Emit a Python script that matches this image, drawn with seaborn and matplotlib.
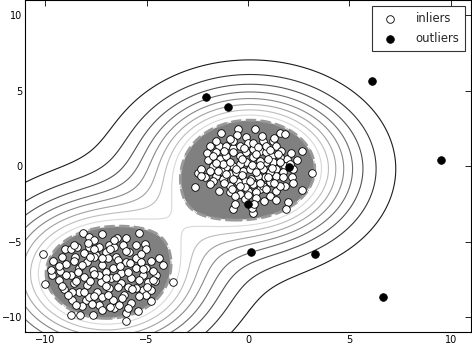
import numpy as np
import pandas as pd
import matplotlib
matplotlib.use("Agg")
import matplotlib.pyplot as plt
import seaborn as sns

# ---- data ----
top_x = [-0.51, 0.33, -1.35, -0.53, -0.12, 1.57, 1.82, 2.64, 3.14, 2.64, 2.19, 1.82, 1.98, 1.86, 0.79,
         0.25, 0.20, -0.74, -0.66, -1.44, -0.91, -2.11, -2.48, -2.61, -2.31, -1.90, -1.45, -2.03, -1.98,
         -1.07, -0.74, 0.00, 0.74, 1.24, 1.40, 1.65, 1.90, 1.57, 1.82, 1.40, 1.40, 1.07, 0.58, 0.41, 0.00,
         -0.41, -0.66, -0.91, -1.24, -1.57, -1.73, -1.40, -1.07, -0.74, -0.41, -0.08, 0.25, 0.58, 0.91,
         1.16, 1.24, 0.91, 0.58, 0.25, -0.08, -0.41, -0.74, -1.07, -1.32, -0.91, -0.58, -0.25, 0.08, 0.41,
         0.74, 1.07, 0.83, 0.50, 0.17, -0.17, -0.50, -0.74, 0.25, 0.74, -0.17, 0.91, -0.41, -1.57, -1.73,
         -1.24, -2.31, -1.73, 1.40, 1.07, 0.41, 1.57, 2.23, 2.06, 1.73, -0.17, 0.25, -0.74,
         -1.20, -0.20, 0.50, 1.10, 1.50, -1.60, -0.90, -0.30, 0.40, 1.00, 1.60, -1.50, -0.60, 0.20,
         0.60, 1.20, 1.70, -1.10, -0.30, 0.40, 1.00, 1.30, -1.20, -0.40, 0.10, 0.60, 0.90, -0.80,
         0.00, -1.90, 2.40, 2.20, -1.90, -0.90, 0.70, 1.30, -1.60, 2.10, 0.30, 1.40]
top_y = [2.46, 2.46, 2.24, 2.06, 1.93, 2.24, 2.13, 1.03, -0.44, -1.54, -0.72, -1.27, -2.37, -2.85, -2.30,
         -3.07, -2.76, -2.85, -2.48, -1.60, -1.67, -0.72, -0.44, -1.38, -0.18, 1.36, 1.36, 0.88, 0.44,
         1.36, 1.25, 1.58, 1.69, 1.69, 1.36, 1.03, 0.48, 0.59, 0.04, -0.18, -0.61, -1.05, -1.49, -1.71, -1.60,
         -1.82, -1.93, -1.27, -0.83, -0.61, 0.04, 0.48, 0.70, 0.92, 0.70, 0.92, 1.14, 1.03, 0.92,
         0.70, 0.26, 0.26, 0.37, 0.59, 0.26, 0.15, 0.04, -0.07, -0.29, -0.50, -0.39, -0.29, -0.18, -0.07,
         -0.18, -0.39, -0.72, -0.61, -0.83, -0.94, -1.05, -0.83, -1.16, -1.27, -1.38, 1.36, 1.36, 0.92, 0.70,
         0.15, -0.61, -0.94, -1.60, -1.93, -2.11, -1.27, -0.18, 0.15, -0.39, -2.15, 1.58, 1.69,
         1.00, 1.20, 1.30, 1.10, 0.80, 0.20, 0.30, 0.50, 0.80, 0.50, 0.30, -0.30, -0.20, 0.10,
         0.10, -0.10, -0.70, -0.50, -0.60, -0.40, -0.70, -1.10, -1.10, -1.30, -1.00, -1.10, -1.50, -1.50,
         -1.90, -0.30, 0.40, -1.10, -1.20, 1.80, 2.00, 1.90, 1.70, 0.90, -2.50, -2.20]

bot_x = [-10.10, -10.00, -9.65, -9.74, -9.60, -9.27, -9.04, -8.75, -8.12, -7.84, -7.18, -6.44, -6.02,
         -5.40, -5.08, -5.03, -4.41, -4.21, -3.71, -4.79, -5.20, -5.45, -6.02, -6.60, -7.67, -8.28, -8.75,
         -8.70, -9.08, -9.32, -8.99, -8.42, -8.09, -7.59, -6.85, -5.86, -5.53, -5.03, -4.54, -4.95, -5.53,
         -6.11, -6.68, -7.34, -8.00, -8.33, -8.58, -8.75, -8.33, -7.92, -7.51, -7.01, -6.52, -6.02, -5.53,
         -5.78, -6.27, -6.85, -7.43, -7.92, -8.09, -7.67, -7.18, -6.68, -6.27, -6.77, -7.26, -7.34, -7.01,
         -7.84, -7.34, -6.60, -6.19, -5.53, -7.84, -7.18, -6.35, -5.78, -5.03, -4.79, -9.16, -8.51, -5.28,
         -5.20, -8.66, -8.17, -7.18, -6.02, -6.40, -6.90, -7.60, -8.20, -5.90, -4.70, -4.60,
         -8.60, -7.60, -6.80, -6.00, -5.30, -4.80, -9.30, -8.60, -7.80, -7.20, -6.30, -5.80, -5.20,
         -4.70, -9.00, -8.40, -7.60, -7.00, -6.50, -5.90, -5.40, -9.20, -8.50, -7.80, -7.00, -6.40,
         -5.70, -5.00, -8.90, -8.10, -7.60, -6.90, -6.20, -5.40, -8.50, -7.70, -6.80, -5.90, -6.60, -7.90]
bot_y = [-5.81, -7.81, -7.19, -6.86, -6.25, -6.91, -5.48, -5.48, -4.41, -4.67, -4.45, -4.74, -4.74,
         -4.41, -5.11, -5.44, -6.05, -6.54, -7.63, -8.95, -8.22, -9.61, -10.26, -9.39, -9.82, -9.82, -9.82,
         -8.88, -8.11, -7.52, -6.47, -5.33, -5.77, -4.89, -5.22, -5.66, -6.10, -6.75, -7.19, -7.63, -8.07,
         -8.51, -8.84, -9.17, -8.84, -8.29, -7.74, -7.19, -6.75, -6.32, -5.88, -5.66, -5.99, -6.32, -6.75,
         -7.41, -7.74, -8.07, -8.29, -7.85, -7.30, -6.86, -6.54, -6.75, -7.08, -7.41, -7.63, -7.19, -6.97,
         -5.33, -5.33, -5.33, -5.22, -5.22, -8.62, -8.62, -9.17, -9.06, -8.51, -8.18, -5.99, -5.99, -6.32,
         -7.19, -8.29, -9.28, -9.50, -9.71, -6.20, -6.10, -6.00, -6.50, -8.00, -6.90, -7.60,
         -5.20, -5.50, -5.50, -5.60, -5.80, -6.30, -6.60, -6.30, -6.00, -6.10, -6.60, -6.40, -6.80,
         -7.50, -7.20, -7.00, -7.10, -7.40, -7.30, -7.00, -7.50, -7.90, -7.60, -7.60, -7.90, -8.00,
         -8.10, -8.00, -8.50, -8.30, -8.60, -8.50, -8.70, -8.60, -9.20, -9.10, -9.30, -9.40, -4.90, -5.10]

out_x = [-2.06, -0.99, 6.09, 9.50, 2.03, 0.00, 0.17, 3.32, 6.68]
out_y = [4.61, 3.95, 5.66, 0.39, -0.07, -2.50, -5.66, -5.79, -8.62]

xlim = (-11, 11)
ylim = (-11, 11)
x_ticks = [-10, -5, 0, 5, 10]
y_ticks = [-10, -5, 0, 5, 10]

# ---- build frames ----
inl = pd.DataFrame({"x": top_x + bot_x, "y": top_y + bot_y})
outl = pd.DataFrame({"x": out_x, "y": out_y})

# decision-like field: sum of RBF kernels on the inliers
gamma = 0.064
gx = np.linspace(xlim[0], xlim[1], 400)
gy = np.linspace(ylim[0], ylim[1], 400)
XX, YY = np.meshgrid(gx, gy)
P = inl[["x", "y"]].to_numpy()
Z = np.zeros_like(XX)
for px, py in P:
    Z += np.exp(-gamma * ((XX - px) ** 2 + (YY - py) ** 2))
Zp = np.zeros(len(P))
for i, (px, py) in enumerate(P):
    Zp[i] = np.exp(-gamma * ((P[:, 0] - px) ** 2 + (P[:, 1] - py) ** 2)).sum()
threshold = np.percentile(Zp, 2.2)

sns.set_style("white")
plt.rcParams["font.family"] = ["DejaVu Sans"]

fig = plt.figure(figsize=(4.72, 3.47), dpi=100)
ax = fig.add_axes([0.053, 0.042, 0.945, 0.957])

levels = np.linspace(Z.min(), threshold, 10)
ax.contour(XX, YY, Z, levels=levels, cmap="gray", vmin=Z.min(), vmax=threshold * 1.05,
           linewidths=0.8)
ax.contourf(XX, YY, Z, levels=[threshold, Z.max()], colors=["#808080"])
ax.contour(XX, YY, Z, levels=[threshold], colors=["#999999"], linewidths=2, linestyles="dashed")

sns.scatterplot(data=inl, x="x", y="y", ax=ax, color="white", edgecolor="black",
                linewidth=0.6, s=30, label="inliers", zorder=3)
sns.scatterplot(data=outl, x="x", y="y", ax=ax, color="black", edgecolor="black",
                linewidth=0.6, s=30, label="outliers", zorder=3)

ax.set_xlim(*xlim)
ax.set_ylim(*ylim)
ax.set_xticks(x_ticks)
ax.set_yticks(y_ticks)
ax.set_xticklabels([str(t).replace("-", "\u2212") for t in x_ticks])
ax.set_yticklabels([str(t).replace("-", "\u2212") for t in y_ticks])
ax.set_xlabel("")
ax.set_ylabel("")
ax.tick_params(direction="in", top=True, right=True, labelsize=7, length=4, width=0.6, pad=2,
               colors="black")
for sp in ax.spines.values():
    sp.set_color("black")
    sp.set_linewidth(0.8)

leg = ax.legend(loc="upper right", fontsize=8.4, frameon=True, fancybox=False,
                borderpad=0.5, handletextpad=1.2, borderaxespad=0.5, labelspacing=0.6)
leg.get_frame().set_edgecolor("black")
leg.get_frame().set_linewidth(0.8)

fig.savefig("out.png", dpi=100)
